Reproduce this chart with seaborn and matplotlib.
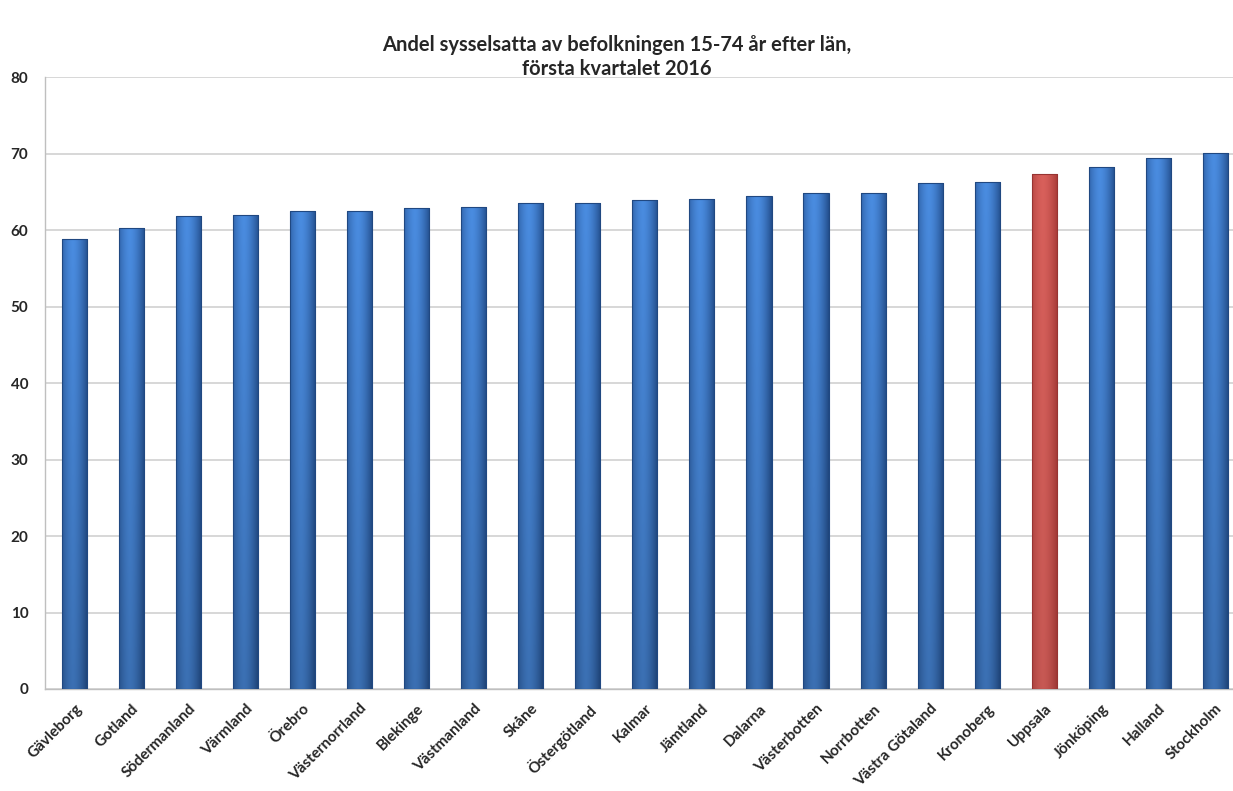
import pandas as pd
import seaborn as sns
import matplotlib.pyplot as plt
import matplotlib.colors as mcolors
import numpy as np

# data
lan = ['Gävleborg', 'Gotland', 'Södermanland', 'Värmland', 'Örebro', 'Västernorrland',
       'Blekinge', 'Västmanland', 'Skåne', 'Östergötland', 'Kalmar', 'Jämtland',
       'Dalarna', 'Västerbotten', 'Norrbotten', 'Västra Götaland', 'Kronoberg',
       'Uppsala', 'Jönköping', 'Halland', 'Stockholm']
andel = [58.9, 60.3, 61.8, 62.0, 62.5, 62.5, 62.9, 63.0, 63.5, 63.6, 64.0, 64.1,
         64.5, 64.8, 64.9, 66.2, 66.3, 67.4, 68.3, 69.4, 70.1]
highlight = 'Uppsala'
y_ticks = [0, 10, 20, 30, 40, 50, 60, 70, 80]

df = pd.DataFrame({'lan': lan, 'andel': andel})
blue = '#3a77c9'
red = '#c9504c'
palette = {l: (red if l == highlight else blue) for l in lan}
# (edge, middle, bottom darkening) for the cylinder shading
shade = {blue: ('#24508f', '#4a8ce0', 0.80), red: ('#a83a37', '#d8605b', 0.92)}

sns.set_style('white')
plt.rcParams['font.family'] = ['Lato', 'DejaVu Sans']

fig = plt.figure(figsize=(12.33, 7.91), dpi=100)
ax = fig.add_axes([0.0365, 0.129, 0.9635, 0.7733])

sns.barplot(data=df, x='lan', y='andel', hue='lan', palette=palette, saturation=1,
            width=0.44, legend=False, ax=ax, zorder=3)

# cylinder-like gradient clipped to each bar
xs = np.linspace(0, 1, 40)
ys = np.linspace(0, 1, 60)
prof = 1 - np.clip(np.abs(xs - 0.42) / 0.58, 0, 1) ** 1.6
for patch, l in zip(list(ax.patches), lan):
    e, m, dark = shade[palette[l]]
    c_edge, c_mid = np.array(mcolors.to_rgb(e)), np.array(mcolors.to_rgb(m))
    vert = dark + (1 - dark) * ys
    img = c_edge[None, None, :] + (c_mid - c_edge)[None, None, :] * prof[None, :, None]
    img = np.clip(img * vert[:, None, None], 0, 1)
    x0, w, h = patch.get_x(), patch.get_width(), patch.get_height()
    im = ax.imshow(img, extent=[x0, x0 + w, 0, h], origin='lower', aspect='auto',
                   zorder=3.2, interpolation='bilinear')
    im.set_clip_path(patch)
    patch.set_facecolor('none')
    patch.set_edgecolor(c_edge * 0.9)
    patch.set_linewidth(0.8)
    patch.set_zorder(3.4)

ax.set_xlim(-0.517, 20.31)
ax.set_ylim(0, 80)
ax.set_aspect('auto')
ax.set_yticks(y_ticks)
ax.set_yticklabels([str(t) for t in y_ticks], fontweight='bold', fontsize=11)
ax.set_xticks(range(len(lan)))
ax.set_xticklabels(lan, rotation=45, ha='right', rotation_mode='anchor',
                   fontweight='bold', fontsize=11)
ax.tick_params(axis='both', length=0)
ax.tick_params(axis='y', pad=12)
ax.tick_params(axis='x', pad=9)
ax.set_xlabel('')
ax.set_ylabel('')

ax.yaxis.grid(True, color='#d4d4d4', linewidth=1.3, zorder=0)
ax.set_axisbelow(True)
for s in ['top', 'right']:
    ax.spines[s].set_visible(False)
for s in ['left', 'bottom']:
    ax.spines[s].set_color('#bfbfbf')
    ax.spines[s].set_linewidth(1.0)

fig.text(0.5, 0.9005, 'Andel sysselsatta av befolkningen 15-74 år efter län,\nförsta kvartalet 2016',
         ha='center', va='bottom', fontsize=14.5, fontweight='bold', linespacing=1.25)

plt.savefig('out.png', dpi=100)
